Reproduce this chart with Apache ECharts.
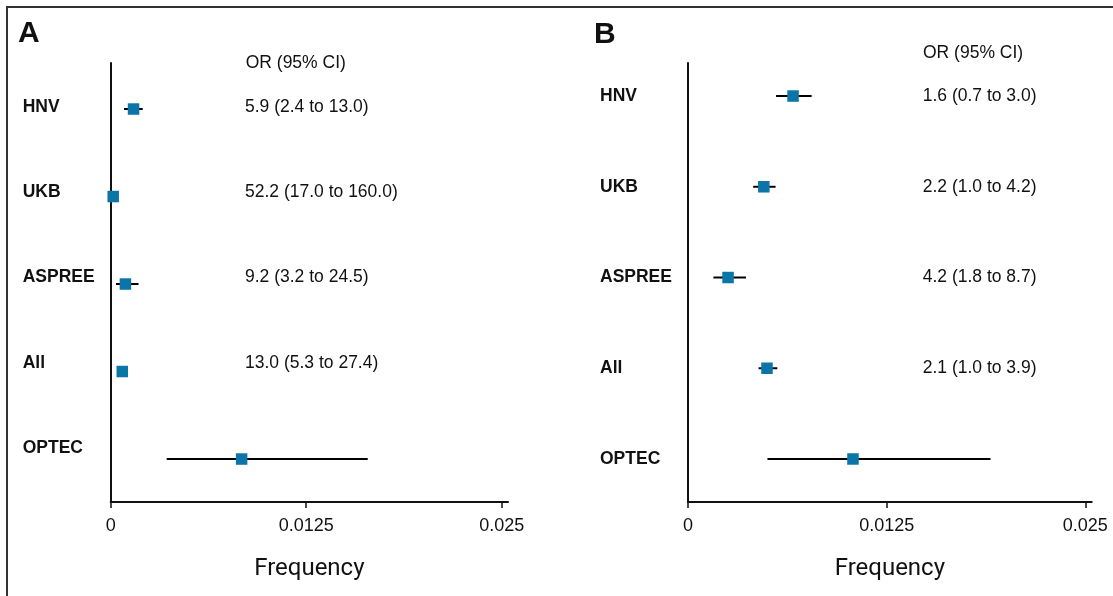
<!DOCTYPE html>
<html lang="en">
	<head>
		<meta charset="UTF-8" />
		<title>Forest plot</title>
		<script src="https://cdn.jsdelivr.net/npm/echarts@6.0.0/dist/echarts.min.js"></script>
		<style>
			html, body { margin: 0; padding: 0; background: #fff; }
		</style>
	</head>
	<body>
		<div id="main" style="width: 1113px; height: 596px"></div>
		<script type="text/javascript">
			// data
			const cohorts = ["HNV", "UKB", "ASPREE", "All", "OPTEC"];

			const freqA = [0.00146, 0.00016, 0.00094, 0.00074, 0.00837];
			const lowA = [0.00085, 0.0001, 0.00034, 0.0005, 0.00358];
			const highA = [0.00205, 0.0003, 0.00178, 0.0009, 0.01643];
			const orA = ["5.9 (2.4 to 13.0)", "52.2 (17.0 to 160.0)", "9.2 (3.2 to 24.5)", "13.0 (5.3 to 27.4)"];

			const freqB = [0.00661, 0.00477, 0.00252, 0.00497, 0.01038];
			const lowB = [0.00554, 0.0041, 0.0016, 0.00444, 0.005];
			const highB = [0.00778, 0.00551, 0.00365, 0.00562, 0.01903];
			const orB = ["1.6 (0.7 to 3.0)", "2.2 (1.0 to 4.2)", "4.2 (1.8 to 8.7)", "2.1 (1.0 to 3.9)"];

			const tickValues = [0, 0.0125, 0.025];
			const tickLabels = ["0", "0.0125", "0.025"];

			const markerColor = "#0b75a7";
			const ink = "#111";

			// panel layout: grid rect, y ranges for marks and for the text rows
			const panels = [
				{ left: 110.7, width: 397.3, markY: [-0.526, 4.491], textY: [-0.516, 4.633], orMargin: 263,
					freq: freqA, low: lowA, high: highA, or: orA },
				{ left: 688, width: 403.7, markY: [-0.364, 4.474], textY: [-0.364, 4.474], orMargin: 169,
					freq: freqB, low: lowB, high: highB, or: orB },
			];

			let grid = [], xAxis = [], yAxis = [], series = [];
			panels.forEach((p, k) => {
				const rect = { left: p.left, top: 63, width: p.width, height: 439 };
				grid.push(rect, Object.assign({}, rect));
				const g0 = 2 * k, g1 = 2 * k + 1;

				// data axes
				xAxis.push({
					type: "value", gridIndex: g0, min: 0, max: 0.0254,
					name: "Frequency", nameLocation: "middle", nameGap: 55,
					nameTextStyle: { fontFamily: "Roboto", fontSize: 24, color: ink },
					axisLine: { onZero: false, lineStyle: { color: ink, width: 2 } },
					axisTick: { show: true, length: 6, customValues: tickValues, lineStyle: { color: ink, width: 1.5 } },
					axisLabel: {
						customValues: tickValues, margin: 15,
						formatter: (v) => tickLabels[tickValues.indexOf(v)],
						fontFamily: "Liberation Sans", fontSize: 18, color: ink,
					},
					splitLine: { show: false },
				});
				yAxis.push({
					type: "value", gridIndex: g0, inverse: true, min: p.markY[0], max: p.markY[1],
					axisLine: { show: true, onZero: false, lineStyle: { color: ink, width: 2 } },
					axisTick: { show: false }, axisLabel: { show: false }, splitLine: { show: false },
				});
				const y0 = yAxis.length - 1;

				// text axes (row names on the left, OR text inside from the right)
				xAxis.push({ type: "value", gridIndex: g1, show: false, min: 0, max: 1 });
				yAxis.push({
					type: "value", gridIndex: g1, position: "left", inverse: true, min: p.textY[0], max: p.textY[1],
					axisLine: { show: false }, axisTick: { show: false }, splitLine: { show: false },
					axisLabel: {
						customValues: [0, 1, 2, 3, 4], align: "left", margin: 88,
						formatter: (v) => cohorts[Math.round(v)],
						fontFamily: "Liberation Sans", fontWeight: "bold", fontSize: 17.5, color: ink,
					},
				});
				yAxis.push({
					type: "value", gridIndex: g1, position: "right", inverse: true, min: p.textY[0], max: p.textY[1],
					axisLine: { show: false }, axisTick: { show: false }, splitLine: { show: false },
					axisLabel: {
						inside: true, customValues: [0, 1, 2, 3], align: "left", margin: p.orMargin,
						formatter: (v) => p.or[Math.round(v)],
						fontFamily: "Liberation Sans", fontSize: 17.5, color: ink,
					},
				});

				// confidence intervals
				series.push({
					type: "custom", xAxisIndex: 2 * k, yAxisIndex: y0,
					data: cohorts.map((c, i) => [p.low[i], p.high[i], i]),
					encode: { x: [0, 1], y: 2 },
					renderItem: (params, api) => {
						const a = api.coord([api.value(0), api.value(2)]);
						const b = api.coord([api.value(1), api.value(2)]);
						return {
							type: "line",
							shape: { x1: a[0], y1: a[1], x2: b[0], y2: b[1] },
							style: { stroke: "#000", lineWidth: 2 },
						};
					},
					z: 3,
				});
				// point estimates
				series.push({
					type: "scatter", xAxisIndex: 2 * k, yAxisIndex: y0,
					symbol: "rect", symbolSize: 11.5,
					itemStyle: { color: markerColor, opacity: 1 },
					data: p.freq.map((f, i) => [f, i]),
					z: 4,
				});
			});

			const options = {
				animation: false,
				title: [
					{ text: "A", left: 18, top: 19, padding: 0, textStyle: { fontFamily: "Liberation Sans", fontWeight: "bold", fontSize: 30, color: ink } },
					{ text: "B", left: 594, top: 20, padding: 0, textStyle: { fontFamily: "Liberation Sans", fontWeight: "bold", fontSize: 30, color: ink } },
					{ text: "OR (95% CI)", left: 245.7, top: 54, padding: 0, textStyle: { fontFamily: "Liberation Sans", fontWeight: "normal", fontSize: 17.5, color: ink } },
					{ text: "OR (95% CI)", left: 923, top: 44, padding: 0, textStyle: { fontFamily: "Liberation Sans", fontWeight: "normal", fontSize: 17.5, color: ink } },
				],
				graphic: [
					{ type: "rect", shape: { x: 7, y: 7, width: 1200, height: 700 }, style: { fill: "none", stroke: "#333", lineWidth: 2 }, silent: true },
				],
				grid: grid,
				xAxis: xAxis,
				yAxis: yAxis,
				series: series,
			};

			let myChart = echarts.init(document.getElementById("main"));
			myChart.setOption(options);
		</script>
	</body>
</html>
